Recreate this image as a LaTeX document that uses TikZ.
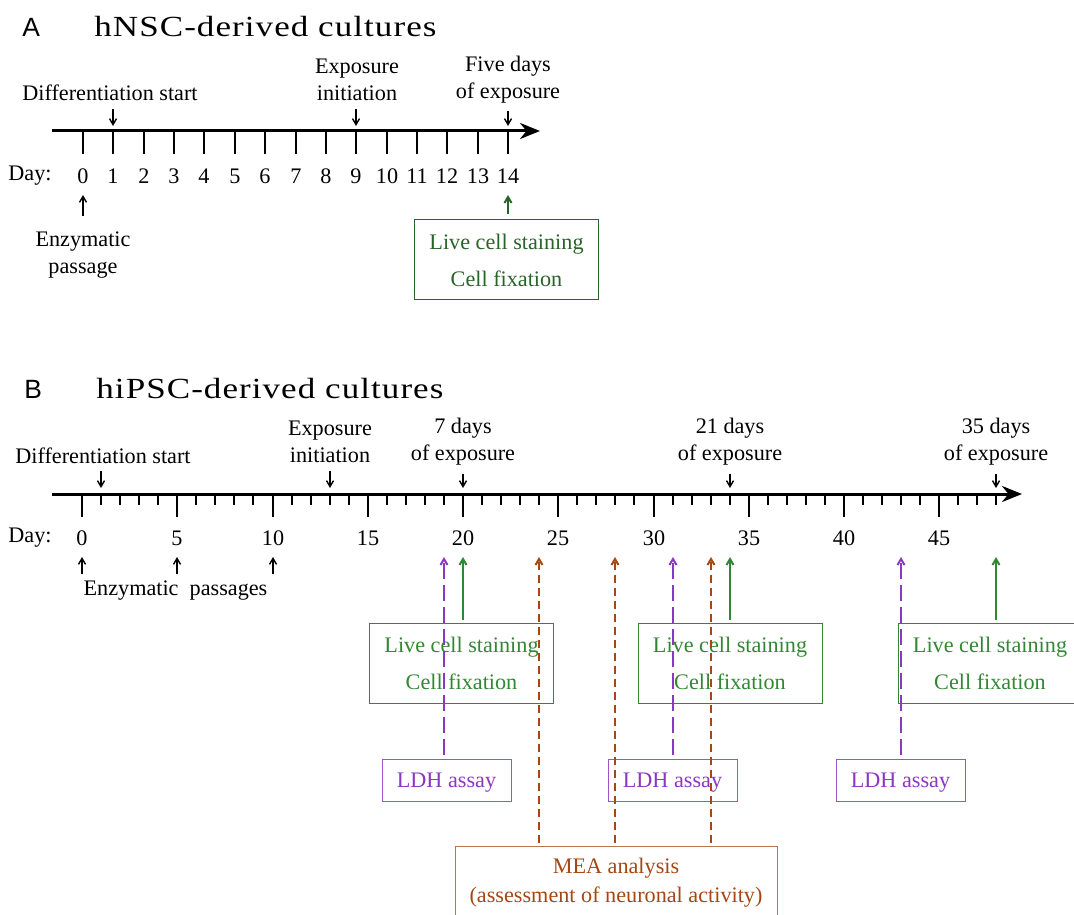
\documentclass[tikz,border=0pt]{standalone}
\usepackage{fontspec}
\usepackage{graphicx}
\setmainfont{Liberation Serif}
\newfontfamily\panelfont{Liberation Sans}
\newfontfamily\titlefont[LetterSpace=3]{Liberation Serif}
\usetikzlibrary{arrows.meta}
\usetikzlibrary{positioning}
\definecolor{greenA}{RGB}{40,100,40}
\definecolor{greenB}{RGB}{50,135,50}
\definecolor{ldhpurple}{RGB}{140,55,195}
\definecolor{meaorange}{RGB}{165,70,20}

\begin{document}
\begin{tikzpicture}[x=0.5pt,y=-0.5pt,>={Straight Barb[length=3pt,width=3.5pt]},
	every node/.style={inner sep=0pt,align=center,font=\fontsize{11.1}{13.5}\selectfont},
	panel/.style={anchor=west,font=\panelfont\fontsize{13.2}{15}\selectfont},
	heading/.style={anchor=west,font=\titlefont\fontsize{14.6}{16}\selectfont},
	axis/.style={line width=1.5pt,-{Stealth[length=10pt,width=8pt]}},
	tick/.style={line width=1.3pt},
	pointer/.style={->,line width=0.7pt,shorten <=4pt,shorten >=2.5pt},
	evbox/.style={draw,line width=0.5pt,minimum width=92pt,minimum height=40pt,font=\fontsize{11.1}{18.5}\selectfont},
	ldhbox/.style={draw=ldhpurple!85,text=ldhpurple,line width=0.5pt,minimum width=64.5pt,minimum height=21pt,text depth=0pt},
	meabox/.style={draw=meaorange!75,text=meaorange,line width=0.5pt,minimum width=161pt,minimum height=36.5pt,font=\fontsize{11.1}{14.5}\selectfont},
	live/.style={->,line width=1pt,shorten <=1.5pt},
	ldh/.style={->,ldhpurple,line width=1pt,shorten <=2pt,dash pattern=on 8pt off 3pt},
	mea/.style={->,meaorange,line width=1pt,shorten <=1.5pt,dash pattern=on 4pt off 2.5pt}]
	\clip (0,0) rectangle (1074,914);

	\node[panel] (pA) at (22,27) {A};
	\node[heading] (hA) at (94,27) {\scalebox{1.2}[1]{hNSC-derived cultures}};
	\coordinate (axA0) at (52,131);
	\coordinate (axA1) at (540,131);
	\draw[axis] (axA0) -- (axA1);
	\foreach \d in {0,...,14} {
		\pgfmathsetmacro\x{round(83+30.36*\d)}
		\coordinate (ta\d) at (\x,131);
		\coordinate (ua\d) at (\x,195);
		\draw[tick] (ta\d) -- ++(0,23);
		\node (la\d) at (\x,176) {\d};
	}
	\node (dayA) at (30,176) {Day:};
	\node (diffA) at (110,93) {Differentiation start};
	\node (expA) at (357,79.5) {Exposure\\initiation};
	\node (fiveA) at (508,79.5) {Five days\\of exposure};
	\node (passA) at (83,255.5) {Enzymatic\\passage};
	\node[evbox,draw=greenA,text=greenA] (fixA) at (506.5,260) {Live cell staining\\Cell fixation};
	\draw[pointer] (diffA.south -| ta1) -- (ta1);
	\draw[pointer] (expA.south -| ta9) -- (ta9);
	\draw[pointer] (fiveA.south -| ta14) -- (ta14);
	\draw[pointer,shorten <=8pt,shorten >=0pt] (passA.north -| ta0) -- (ua0);
	\draw[live,greenA,shorten <=2.5pt] (fixA.north -| ta14) -- (ua14);

	\node[panel] (pB) at (24,389) {B};
	\node[heading] (hB) at (96,389) {\scalebox{1.2}[1]{hiPSC-derived cultures}};
	\coordinate (axB0) at (52,494);
	\coordinate (axB1) at (1022,494);
	\draw[axis] (axB0) -- (axB1);
	\foreach \d in {0,...,48} {
		\pgfmathsetmacro\x{round(82+19.05*\d)}
		\pgfmathtruncatemacro\m{mod(\d,5)}
		\coordinate (tb\d) at (\x,494);
		\coordinate (ub\d) at (\x,557);
		\ifnum\m=0
			\draw[tick] (tb\d) -- ++(0,23);
		\else
			\draw[tick] (tb\d) -- ++(0,11);
		\fi
	}
	\foreach \d in {0,5,...,45}
		\node (lb\d) at (tb\d |- 0,538) {\d};
	\node (dayB) at (30,538) {Day:};
	\node (diffB) at (103,456) {Differentiation start};
	\node (expB) at (330,442) {Exposure\\initiation};
	\node (sevenB) at (463,442) {7 days\\of exposure};
	\node (twentyB) at (730,442) {21 days\\of exposure};
	\node (thirtyB) at (996,442) {35 days\\of exposure};
	\node (passB) at (175.5,591) {Enzymatic~ passages};
	\draw[pointer,shorten <=3.5pt,shorten >=3pt] (diffB.south -| tb1) -- (tb1);
	\draw[pointer,shorten >=3pt] (expB.south -| tb13) -- (tb13);
	\draw[pointer,shorten >=3pt] (sevenB.south -| tb20) -- (tb20);
	\draw[pointer,shorten >=3pt] (twentyB.south -| tb34) -- (tb34);
	\draw[pointer,shorten >=3pt] (thirtyB.south -| tb48) -- (tb48);
	\foreach \d in {0,5,10}
		\draw[pointer,shorten <=3.5pt,shorten >=0pt] (passB.north -| tb\d) -- (ub\d);

	\node[evbox,draw=greenB,text=greenB] (fix1) at (461.5,663) {Live cell staining\\Cell fixation};
	\node[evbox,draw=greenB,text=greenB] (fix2) at (730,663) {Live cell staining\\Cell fixation};
	\node[evbox,draw=greenB,text=greenB] (fix3) at (990,663) {Live cell staining\\Cell fixation};
	\node[ldhbox] (ldh1) at (446.5,780) {LDH assay};
	\node[ldhbox] (ldh2) at (672.5,780) {LDH assay};
	\node[ldhbox] (ldh3) at (900.5,780) {LDH assay};
	\node[meabox] (mea) at (616,882.5) {MEA analysis\\(assessment of neuronal activity)};

	\draw[live,greenB] (fix1.north -| tb20) -- (ub20);
	\draw[live,greenB] (fix2.north -| tb34) -- (ub34);
	\draw[live,greenB] (fix3.north -| tb48) -- (ub48);
	\draw[ldh] (ldh1.north -| tb19) -- (ub19);
	\draw[ldh] (ldh2.north -| tb31) -- (ub31);
	\draw[ldh] (ldh3.north -| tb43) -- (ub43);
	\draw[mea] (mea.north -| tb24) -- (ub24);
	\draw[mea] (mea.north -| tb28) -- (ub28);
	\draw[mea] (mea.north -| tb33) -- (ub33);
\end{tikzpicture}
\end{document}
